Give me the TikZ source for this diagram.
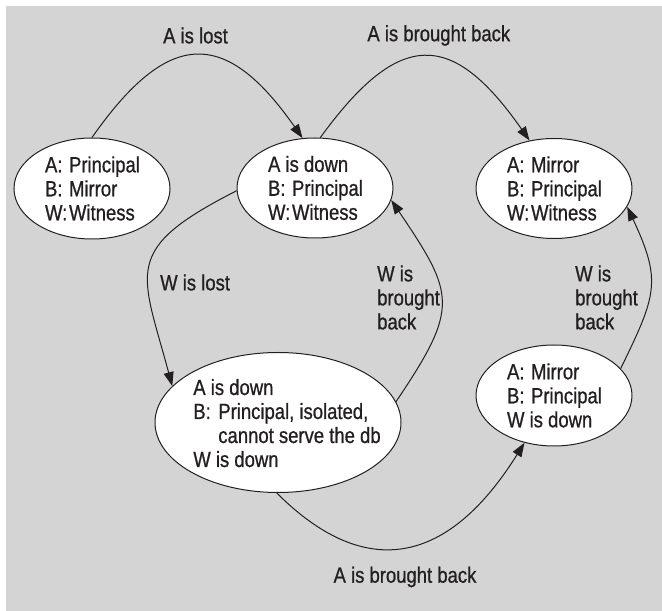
\documentclass[tikz,border=0pt]{standalone}
\usepackage{fontspec}
\setmainfont{Liberation Sans}[FakeStretch=0.84,FakeBold=0.8]
\usetikzlibrary{shapes.geometric,arrows.meta}
\definecolor{bg}{HTML}{D4D4D4}
\definecolor{ink}{HTML}{231F20}
\begin{document}
\begin{tikzpicture}[x=1pt,y=1pt,
  state/.style={ellipse,draw=ink,fill=white,line width=1pt,inner sep=0pt},
  txt/.style={inner sep=0pt,text=ink,font=\fontsize{22}{24}\selectfont},
  lbl/.style={inner sep=0pt,text=ink,font=\fontsize{22}{24}\selectfont,align=left},
  arr/.style={draw=ink,line width=1pt,-{Triangle[length=14pt,width=10pt]}}]
\useasboundingbox (0,0) rectangle (662,611);
\fill[bg] (6,0) rectangle (662,605);
% states
\node[state,minimum width=156pt,minimum height=101pt] (e1) at (92,422.5) {};
\node[state,minimum width=156pt,minimum height=100pt] (e2) at (315,423) {};
\node[state,minimum width=156pt,minimum height=100pt] (e3) at (554,422.5) {};
\node[state,minimum width=246pt,minimum height=140pt] (e4) at (278,188.5) {};
\node[state,minimum width=156pt,minimum height=101pt] (e5) at (554,215.5) {};
% state texts
\node[txt] (t1) at (92.5,419.5) {\begin{tabular}{@{}p{24pt}@{}l@{}}A: & Principal\\ B: & Mirror\\ W: & Witness\end{tabular}};
\node[txt] (t2) at (315.5,420) {\begin{tabular}{@{}p{24pt}@{}l@{}}\multicolumn{2}{@{}l@{}}{A is down}\\ B: & Principal\\ W: & Witness\end{tabular}};
\node[txt] (t3) at (554.5,419.5) {\begin{tabular}{@{}p{24pt}@{}l@{}}A: & Mirror\\ B: & Principal\\ W: & Witness\end{tabular}};
\node[txt] (t4) at (287,184.8) {\begin{tabular}{@{}p{25pt}@{}l@{}}\multicolumn{2}{@{}l@{}}{A is down}\\ B: & Principal, isolated,\\ & cannot serve the db\\ \multicolumn{2}{@{}l@{}}{W is down}\end{tabular}};
\node[txt] (t5) at (554.5,212.5) {\begin{tabular}{@{}p{24pt}@{}l@{}}A: & Mirror\\ B: & Principal\\ \multicolumn{2}{@{}l@{}}{W is down}\end{tabular}};
% transitions
\draw[arr] (e1.90) .. controls +(55:134) and +(125:134) .. (e2.104);
\draw[arr] (e2.84) .. controls +(54:135) and +(125:135) .. (e3.117);
\draw[arr] (e2.182) .. controls +(207:130) and +(105:120) .. (e4.161);
\draw[arr] (e4.10) .. controls +(56:114) and +(-56:114) .. (e2.-9);
\draw[arr] (e4.-91) .. controls +(-45:120) and +(238:150) .. (e5.238);
\draw[arr] (e5.22) .. controls +(64:82) and +(-65:82) .. (e3.-14);
% labels
\node[lbl] (l1) at (195.5,575.5) {A is lost};
\node[lbl] (l2) at (438.8,575.5) {A is brought back};
\node[lbl,anchor=west] (l3) at (160,328.5) {W is lost};
\node[lbl,anchor=west] (l4) at (377,313.5) {W is\\brought\\back};
\node[lbl,anchor=west] (l5) at (575,313.5) {W is\\brought\\back};
\node[lbl] (l6) at (405,34) {A is brought back};
\end{tikzpicture}
\end{document}
